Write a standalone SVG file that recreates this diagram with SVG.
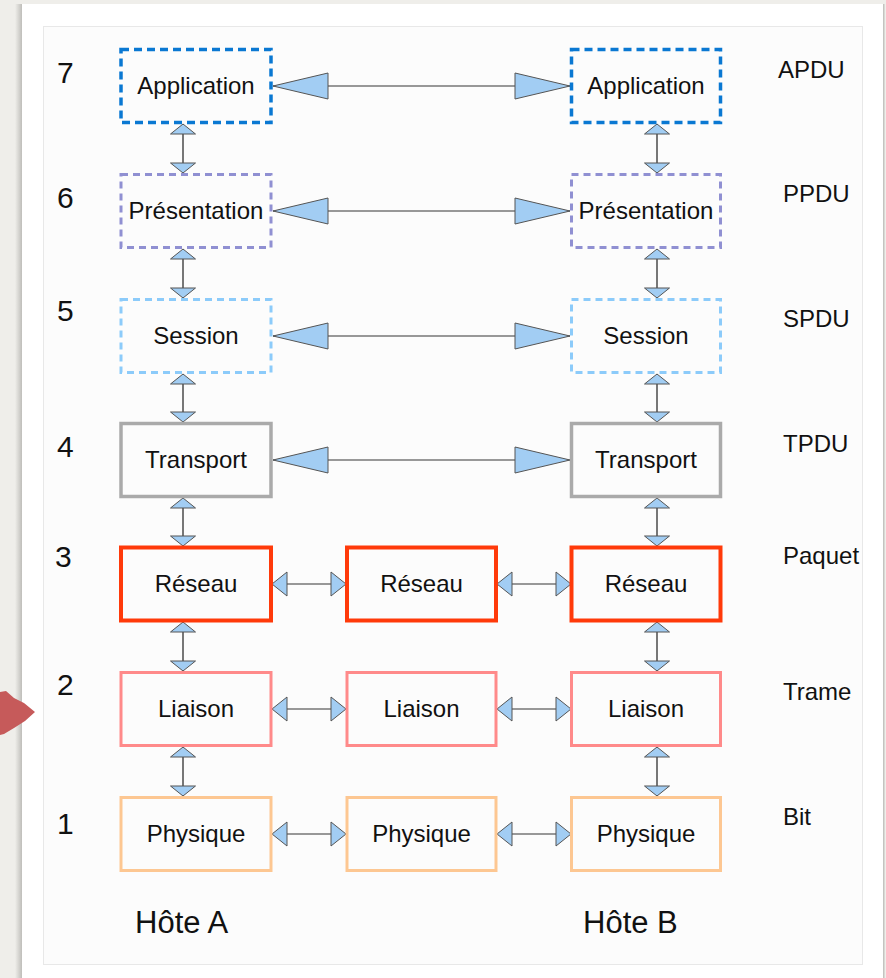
<svg xmlns="http://www.w3.org/2000/svg" width="886" height="978" viewBox="0 0 886 978">
  <defs>
    <linearGradient id="shadowL" x1="0" y1="0" x2="1" y2="0">
      <stop offset="0" stop-color="#efeeea"/>
      <stop offset="1" stop-color="#b8b7b3"/>
    </linearGradient>
    <marker id="bigHead" markerUnits="userSpaceOnUse" markerWidth="56" markerHeight="26" refX="55" refY="13" orient="auto-start-reverse" overflow="visible">
      <path d="M0,0 L55,13 L0,26 Z" class="head"/>
    </marker>
    <marker id="smallHead" markerUnits="userSpaceOnUse" markerWidth="15" markerHeight="24" refX="15" refY="12" orient="auto-start-reverse" overflow="visible">
      <path d="M0,0 L15,12 L0,24 Z" class="head"/>
    </marker>
    <marker id="vHead" markerUnits="userSpaceOnUse" markerWidth="10" markerHeight="25" refX="10" refY="12.5" orient="auto-start-reverse" overflow="visible">
      <path d="M0,0 L10,12.5 L0,25 Z" class="head"/>
    </marker>
  </defs>
  <style>
    text { font-family: "Liberation Sans", Arial, sans-serif; fill: #111; }
    .lbl { font-size: 24px; text-anchor: middle; }
    .num { font-size: 30px; }
    .pdu { font-size: 24px; }
    .host { font-size: 31px; }
    .box { fill: none; }
    .app { stroke: #0a78d2; stroke-width: 3.5; stroke-dasharray: 8 5; }
    .pres { stroke: #9090d2; stroke-width: 3; stroke-dasharray: 7 5; }
    .sess { stroke: #8ccbfa; stroke-width: 3; stroke-dasharray: 7 5; }
    .trans { stroke: #aaaaaa; stroke-width: 3.5; }
    .res { stroke: #ff3a0a; stroke-width: 4; }
    .liai { stroke: #ff8a8a; stroke-width: 3; }
    .phys { stroke: #fdc792; stroke-width: 3; }
    .head { fill: #a2cdf3; stroke: #555; stroke-width: 1; stroke-linejoin: miter; }
    .hl { stroke: #777; stroke-width: 1.6; fill: none; }
    .big { marker-start: url(#bigHead); marker-end: url(#bigHead); }
    .small { marker-start: url(#smallHead); marker-end: url(#smallHead); }
    .vl { stroke: #777; stroke-width: 2; fill: none; marker-start: url(#vHead); marker-end: url(#vHead); }
  </style>

  <!-- page background -->
  <rect x="0" y="0" width="886" height="978" fill="#efeeea"/>
  <rect x="15" y="4" width="8" height="974" fill="url(#shadowL)"/>
  <rect x="22" y="4" width="862" height="974" fill="#ffffff"/>
  <rect x="883" y="4" width="1.5" height="974" fill="#c4c4c0"/>
  <rect x="43.5" y="26.5" width="819" height="938" fill="#fcfcfc" stroke="#e8e8e8" stroke-width="1"/>
  <polygon points="0,692 6,691 14,698 24,703 35,712 25,721 14,728 4,734 0,735" fill="#c65a5a"/>

  <!-- connectors -->
  <g id="connectors">
    <line class="hl big" x1="273" y1="86" x2="570" y2="86"/>
    <line class="hl big" x1="273" y1="211" x2="570" y2="211"/>
    <line class="hl big" x1="273" y1="336" x2="570" y2="336"/>
    <line class="hl big" x1="273" y1="460" x2="570" y2="460"/>

    <line class="hl small" x1="272" y1="584" x2="346" y2="584"/>
    <line class="hl small" x1="497" y1="584" x2="571" y2="584"/>
    <line class="hl small" x1="272" y1="709" x2="346" y2="709"/>
    <line class="hl small" x1="497" y1="709" x2="571" y2="709"/>
    <line class="hl small" x1="272" y1="834" x2="346" y2="834"/>
    <line class="hl small" x1="497" y1="834" x2="571" y2="834"/>

    <line class="vl" x1="183" y1="124" x2="183" y2="173"/>
    <line class="vl" x1="183" y1="249" x2="183" y2="298"/>
    <line class="vl" x1="183" y1="374" x2="183" y2="422"/>
    <line class="vl" x1="183" y1="498" x2="183" y2="546"/>
    <line class="vl" x1="183" y1="622" x2="183" y2="671"/>
    <line class="vl" x1="183" y1="747" x2="183" y2="796"/>

    <line class="vl" x1="657" y1="124" x2="657" y2="173"/>
    <line class="vl" x1="657" y1="249" x2="657" y2="298"/>
    <line class="vl" x1="657" y1="374" x2="657" y2="422"/>
    <line class="vl" x1="657" y1="498" x2="657" y2="546"/>
    <line class="vl" x1="657" y1="622" x2="657" y2="671"/>
    <line class="vl" x1="657" y1="747" x2="657" y2="796"/>
  </g>

  <!-- Host A -->
  <g id="A-application"><rect class="box app" x="121" y="49.5" width="150" height="73"/><text class="lbl" x="196" y="94">Application</text></g>
  <g id="A-presentation"><rect class="box pres" x="121" y="174.5" width="150" height="73"/><text class="lbl" x="196" y="219">Présentation</text></g>
  <g id="A-session"><rect class="box sess" x="121" y="299.5" width="150" height="73"/><text class="lbl" x="196" y="344">Session</text></g>
  <g id="A-transport"><rect class="box trans" x="121" y="423.5" width="150" height="73"/><text class="lbl" x="196" y="468">Transport</text></g>
  <g id="A-reseau"><rect class="box res" x="121" y="547.5" width="150" height="73"/><text class="lbl" x="196" y="592">Réseau</text></g>
  <g id="A-liaison"><rect class="box liai" x="121" y="672.5" width="150" height="73"/><text class="lbl" x="196" y="717">Liaison</text></g>
  <g id="A-physique"><rect class="box phys" x="121" y="797.5" width="150" height="73"/><text class="lbl" x="196" y="842">Physique</text></g>

  <!-- Intermediate -->
  <g id="M-reseau"><rect class="box res" x="347" y="547.5" width="149" height="73"/><text class="lbl" x="421.5" y="592">Réseau</text></g>
  <g id="M-liaison"><rect class="box liai" x="347" y="672.5" width="149" height="73"/><text class="lbl" x="421.5" y="717">Liaison</text></g>
  <g id="M-physique"><rect class="box phys" x="347" y="797.5" width="149" height="73"/><text class="lbl" x="421.5" y="842">Physique</text></g>

  <!-- Host B -->
  <g id="B-application"><rect class="box app" x="571.5" y="49.5" width="149" height="73"/><text class="lbl" x="646" y="94">Application</text></g>
  <g id="B-presentation"><rect class="box pres" x="571.5" y="174.5" width="149" height="73"/><text class="lbl" x="646" y="219">Présentation</text></g>
  <g id="B-session"><rect class="box sess" x="571.5" y="299.5" width="149" height="73"/><text class="lbl" x="646" y="344">Session</text></g>
  <g id="B-transport"><rect class="box trans" x="571.5" y="423.5" width="149" height="73"/><text class="lbl" x="646" y="468">Transport</text></g>
  <g id="B-reseau"><rect class="box res" x="571.5" y="547.5" width="149" height="73"/><text class="lbl" x="646" y="592">Réseau</text></g>
  <g id="B-liaison"><rect class="box liai" x="571.5" y="672.5" width="149" height="73"/><text class="lbl" x="646" y="717">Liaison</text></g>
  <g id="B-physique"><rect class="box phys" x="571.5" y="797.5" width="149" height="73"/><text class="lbl" x="646" y="842">Physique</text></g>

  <!-- layer numbers -->
  <g id="numbers">
    <text class="num" x="57" y="83">7</text>
    <text class="num" x="57" y="208">6</text>
    <text class="num" x="57" y="321">5</text>
    <text class="num" x="57" y="457">4</text>
    <text class="num" x="55" y="567">3</text>
    <text class="num" x="57" y="695">2</text>
    <text class="num" x="57" y="834">1</text>
  </g>

  <!-- PDU names -->
  <g id="pdus">
    <text class="pdu" x="778" y="78">APDU</text>
    <text class="pdu" x="783" y="202">PPDU</text>
    <text class="pdu" x="783" y="327">SPDU</text>
    <text class="pdu" x="783" y="452">TPDU</text>
    <text class="pdu" x="783" y="564">Paquet</text>
    <text class="pdu" x="783" y="700">Trame</text>
    <text class="pdu" x="783" y="825">Bit</text>
  </g>

  <g id="hosts">
    <text class="host" x="135" y="933">Hôte A</text>
    <text class="host" x="583" y="933">Hôte B</text>
  </g>
</svg>
